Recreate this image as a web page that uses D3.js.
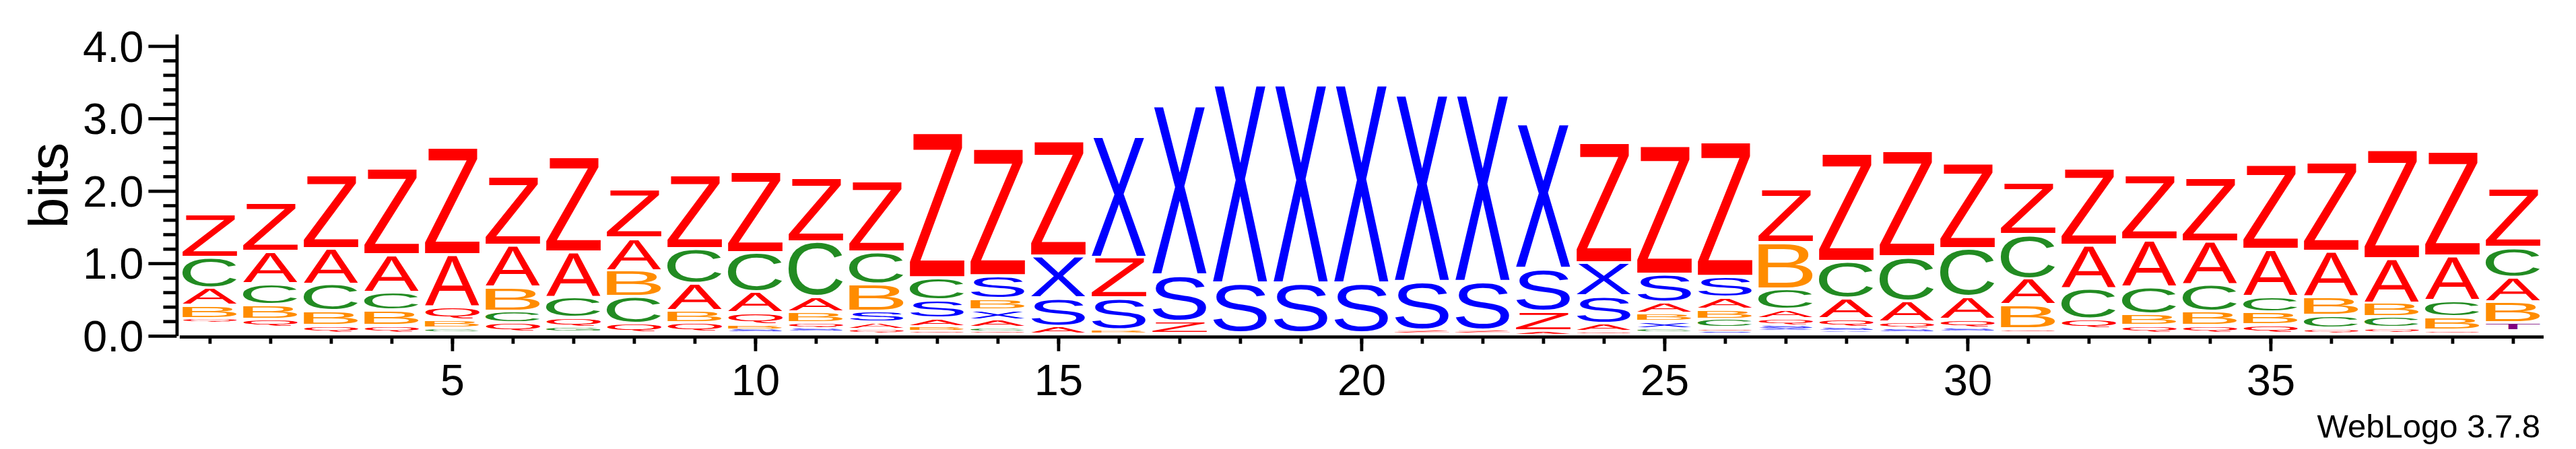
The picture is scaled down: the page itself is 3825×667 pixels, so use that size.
<!DOCTYPE html>
<html><head><meta charset="utf-8">
<script src="https://cdn.jsdelivr.net/npm/d3@7"></script>
<style>html,body{margin:0;padding:0;background:#fff;} svg{display:block;}</style>
</head><body>
<script>
// ---------- data ----------
const positions = [1,2,3,4,5,6,7,8,9,10,11,12,13,14,15,16,17,18,19,20,21,22,23,24,25,26,27,28,29,30,31,32,33,34,35,36,37,38,39];
// letters of each stack, bottom -> top
const columnLetters = [
  "QBACZ","QBCAZ","QBCAZ","QBCAZ","CBQAZ","QCBAZ","GQCAZ","QCBAZ","QBACZ","SBQACZ",
  "SQBACZ","QASBCZ","QBASCZ","QCAXBSZ","ASXZ","BSZX","ZSX","SX","SX","SX",
  "ZSX","ZSX","AZSX","QASXZ","CXBASZ","SQCBASZ","XSQACBZ","XSQACZ","SQACZ","SQACZ",
  "QBACZ","QCAZ","QBCAZ","QBCAZ","QBCAZ","QCBAZ","QCBAZ","QBCAZ","TBACZ"
];
// heights in bits, same order as columnLetters
const columnBits = [
  [0.04,0.18,0.24,0.42,0.60],
  [0.11,0.20,0.29,0.45,0.67],
  [0.10,0.20,0.37,0.49,1.02],
  [0.10,0.21,0.25,0.52,1.20],
  [0.04,0.11,0.18,0.72,1.48],
  [0.13,0.16,0.33,0.58,0.96],
  [0.05,0.13,0.28,0.63,1.32],
  [0.13,0.37,0.36,0.45,0.67],
  [0.13,0.17,0.37,0.48,1.02],
  [0.03,0.05,0.17,0.29,0.54,1.12],
  [0.03,0.07,0.15,0.21,0.76,0.89],
  [0.05,0.09,0.15,0.37,0.45,0.98],
  [0.03,0.05,0.11,0.25,0.31,2.01],
  [0.03,0.04,0.10,0.14,0.15,0.32,1.76],
  [0.10,0.39,0.58,1.59],
  [0.03,0.44,0.56,1.67],
  [0.17,0.64,2.34],
  [0.69,2.74],
  [0.69,2.74],
  [0.69,2.74],
  [0.03,0.67,2.58],
  [0.03,0.67,2.58],
  [0.03,0.27,0.59,2.00],
  [0.03,0.10,0.38,0.46,1.66],
  [0.04,0.09,0.11,0.15,0.39,1.78],
  [0.02,0.03,0.12,0.14,0.16,0.29,1.86],
  [0.03,0.03,0.09,0.12,0.29,0.64,0.74],
  [0.02,0.03,0.12,0.28,0.51,1.49],
  [0.03,0.09,0.29,0.61,1.47],
  [0.03,0.12,0.31,0.66,1.19],
  [0.03,0.33,0.36,0.61,0.72],
  [0.13,0.42,0.60,1.07],
  [0.10,0.16,0.37,0.65,0.90],
  [0.10,0.19,0.37,0.60,0.89],
  [0.11,0.18,0.21,0.65,1.17],
  [0.05,0.18,0.26,0.63,1.23],
  [0.05,0.15,0.19,0.61,1.51],
  [0.03,0.18,0.23,0.61,1.45],
  [0.11,0.29,0.34,0.41,0.82]
];
// mass of the many near-invisible letters at the bottom of each stack (bits)
const restBits = [0.18,0.10,0.02,0.02,0.05,0.03,0.05,0.02,0.03,0.05,
  0.06,0.03,0.03,0.03,0.01,0.03,0.01,0.02,0.02,0.02,
  0.03,0.03,0.02,0.02,0.05,0.04,0.07,0.05,0.05,0.06,
  0.05,0.08,0.02,0.02,0.02,0.03,0.04,0.03,0.05];
const yMajorTicks = [0,1,2,3,4];
const yMinorTicks = [0.2,0.4,0.6,0.8,1.2,1.4,1.6,1.8,2.2,2.4,2.6,2.8,3.2,3.4,3.6,3.8];
const xLabelTicks = [5,10,15,20,25,30,35];
const letterColors = {Z:"#ff0000",A:"#ff0000",Q:"#ff0000",C:"#228b22",G:"#228b22",B:"#ff8c00",S:"#0000ff",X:"#0000ff",T:"#800080"};

// ---------- drawing ----------
const W = 3825, H = 667;
const FONT = "'Liberation Sans', Arial, Helvetica, sans-serif";
const svg = d3.select("body").append("svg").attr("width", W).attr("height", H);
svg.append("rect").attr("width", W).attr("height", H).attr("fill", "#fff");

const x = d3.scaleLinear().domain([0.5, 39.5]).range([266.4, 3776.4]);
const y = d3.scaleLinear().domain([0, 4.164]).range([498.8, 50.7]);

const ctx = document.createElement("canvas").getContext("2d");
ctx.font = "100px 'Liberation Sans'";
const metricCache = {};
function metrics(ch) {
  if (!metricCache[ch]) {
    const t = ctx.measureText(ch);
    metricCache[ch] = {L: t.actualBoundingBoxLeft, R: t.actualBoundingBoxRight,
                       A: t.actualBoundingBoxAscent, D: t.actualBoundingBoxDescent};
  }
  return metricCache[ch];
}

const records = [];
positions.forEach((p, i) => {
  let base = restBits[i];
  columnLetters[i].split("").forEach((ch, j) => {
    const b = columnBits[i][j];
    records.push({pos: p, ch, y0: base, y1: base + b});
    base += b;
  });
});

const glyphW = (x(2) - x(1)) * 0.9;
svg.append("g").selectAll("text").data(records).join("text")
  .attr("font-family", FONT).attr("font-size", 100)
  .attr("fill", d => letterColors[d.ch])
  .attr("transform", d => {
    const top = y(d.y1), bot = y(d.y0);
    const hBox = bot - top;
    const h = Math.max(0.3, hBox - Math.min(4.5, hBox * 0.35));
    const m = metrics(d.ch);
    const sx = glyphW / (m.L + m.R), sy = h / (m.A + m.D);
    const x0 = x(d.pos) - glyphW / 2;
    return `translate(${x0 + m.L * sx},${top + m.A * sy}) scale(${sx},${sy})`;
  })
  .text(d => d.ch);

// y axis
const yMinor = svg.append("g").attr("transform", "translate(262.4,0)")
  .call(d3.axisLeft(y).tickValues(yMinorTicks).tickSize(20).tickSizeOuter(0).tickFormat(""));
const yMajor = svg.append("g").attr("transform", "translate(262.4,0)")
  .call(d3.axisLeft(y).tickValues(yMajorTicks).tickSize(42).tickSizeOuter(0).tickPadding(7).tickFormat(d3.format(".1f")));
// x axis
const xMinor = svg.append("g").attr("transform", "translate(0,500.2)")
  .call(d3.axisBottom(x).tickValues(positions).tickSize(10.5).tickSizeOuter(0).tickFormat(""));
const xMajor = svg.append("g").attr("transform", "translate(0,500.2)")
  .call(d3.axisBottom(x).tickValues(xLabelTicks).tickSize(21.5).tickSizeOuter(0).tickPadding(19));
xMajor.select(".domain").remove();
yMajor.select(".domain").remove();

svg.selectAll(".domain, .tick line").attr("stroke", "#000").attr("stroke-width", 4.8);
svg.selectAll(".tick text").attr("font-family", FONT).attr("font-size", 65).attr("fill", "#000");
yMajor.selectAll(".tick text").attr("dy", "0.35em");

svg.append("text").attr("transform", "translate(100.3,275.5) rotate(-90)")
  .attr("text-anchor", "middle").attr("font-family", FONT).attr("font-size", 82).text("bits");

svg.append("text").attr("x", 3772).attr("y", 650).attr("text-anchor", "end")
  .attr("font-family", FONT).attr("font-size", 49).text("WebLogo 3.7.8");
</script>
</body></html>
